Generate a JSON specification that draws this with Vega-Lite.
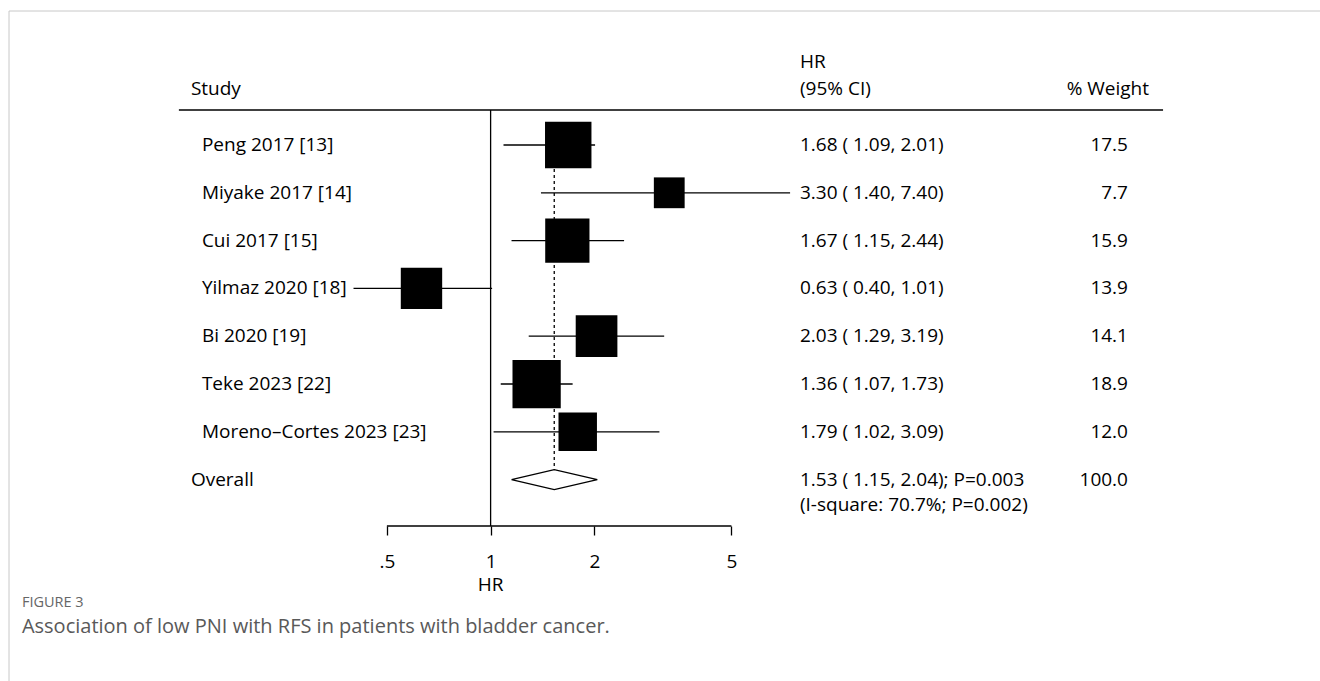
{
  "$schema": "https://vega.github.io/schema/vega-lite/v6.json",
  "width": 1311,
  "height": 670,
  "autosize": {"type": "none"},
  "padding": {"left": 9, "top": 11, "right": 0, "bottom": 0},
  "background": "white",
  "data": {"values": [{"item": "frame"}]},
  "config": {
    "view": {"stroke": null},
    "font": "Open Sans",
    "axisY": {"disable": true},
    "text": {"font": "Open Sans", "fontSize": 19, "color": "black", "baseline": "middle"}
  },
  "datasets": {
    "studies": [
      {"study": "Peng 2017 [13]", "row": 1, "hr": 1.68, "lo": 1.09, "hi": 2.01, "w": 17.5, "ci": "1.68 ( 1.09, 2.01)"},
      {"study": "Miyake 2017 [14]", "row": 2, "hr": 3.30, "lo": 1.40, "hi": 7.40, "w": 7.7, "ci": "3.30 ( 1.40, 7.40)"},
      {"study": "Cui 2017 [15]", "row": 3, "hr": 1.67, "lo": 1.15, "hi": 2.44, "w": 15.9, "ci": "1.67 ( 1.15, 2.44)"},
      {"study": "Yilmaz 2020 [18]", "row": 4, "hr": 0.63, "lo": 0.40, "hi": 1.01, "w": 13.9, "ci": "0.63 ( 0.40, 1.01)"},
      {"study": "Bi 2020 [19]", "row": 5, "hr": 2.03, "lo": 1.29, "hi": 3.19, "w": 14.1, "ci": "2.03 ( 1.29, 3.19)"},
      {"study": "Teke 2023 [22]", "row": 6, "hr": 1.36, "lo": 1.07, "hi": 1.73, "w": 18.9, "ci": "1.36 ( 1.07, 1.73)"},
      {"study": "Moreno–Cortes 2023 [23]", "row": 7, "hr": 1.79, "lo": 1.02, "hi": 3.09, "w": 12.0, "ci": "1.79 ( 1.02, 3.09)"}
    ],
    "overall": [
      {"label": "Overall", "row": 8, "hr": 1.53, "lo": 1.15, "hi": 2.04, "w": 100.0, "ci": "1.53 ( 1.15, 2.04); P=0.003", "het": "(I-square: 70.7%; P=0.002)"}
    ],
    "diamond": [
      {"vx": 1.15, "vy": 8, "ord": 1},
      {"vx": 1.53, "vy": 7.791, "ord": 2},
      {"vx": 2.04, "vy": 8, "ord": 3},
      {"vx": 1.53, "vy": 8.209, "ord": 4},
      {"vx": 1.15, "vy": 8, "ord": 5}
    ]
  },
  "layer": [
    {
      "mark": {"type": "rule", "color": "#c8c8c8", "strokeWidth": 1},
      "encoding": {
        "x": {"datum": 0.04, "type": "quantitative", "scale": {"type": "log", "domain": [0.04, 255.5], "nice": false}},
        "x2": {"datum": 255.5},
        "y": {"datum": -1.803, "type": "quantitative", "scale": {"type": "linear", "domain": [-1.803, 12.213], "reverse": true, "nice": false, "zero": false}}
      }
    },
    {
      "mark": {"type": "rule", "color": "#c8c8c8", "strokeWidth": 1},
      "encoding": {
        "x": {"datum": 0.04, "type": "quantitative"},
        "y": {"datum": -1.803, "type": "quantitative"},
        "y2": {"datum": 12.213}
      }
    },
    {
      "mark": {"type": "rule", "color": "black", "strokeWidth": 1.3},
      "encoding": {
        "x": {"datum": 0.1245, "type": "quantitative"},
        "x2": {"datum": 89.5},
        "y": {"datum": 0.268, "type": "quantitative"}
      }
    },
    {
      "mark": {"type": "rule", "color": "black", "strokeWidth": 1.3},
      "encoding": {
        "x": {"datum": 1, "type": "quantitative"},
        "y": {"datum": 0.268, "type": "quantitative"},
        "y2": {"datum": 8.971}
      }
    },
    {
      "mark": {"type": "rule", "color": "black", "strokeWidth": 1.3},
      "encoding": {
        "x": {"datum": 0.5, "type": "quantitative"},
        "x2": {"datum": 5},
        "y": {"datum": 8.971, "type": "quantitative"}
      }
    },
    {
      "mark": {"type": "rule", "color": "black", "strokeWidth": 1.3, "strokeDash": [3, 3]},
      "encoding": {
        "x": {"datum": 1.53, "type": "quantitative"},
        "y": {"datum": 1, "type": "quantitative"},
        "y2": {"datum": 7.791}
      }
    },
    {
      "data": {"name": "studies"},
      "mark": {"type": "rule", "color": "black", "strokeWidth": 1.3},
      "encoding": {
        "x": {"field": "lo", "type": "quantitative"},
        "x2": {"field": "hi"},
        "y": {"field": "row", "type": "quantitative"}
      }
    },
    {
      "data": {"name": "studies"},
      "mark": {"type": "square", "color": "black", "filled": true, "opacity": 1},
      "encoding": {
        "x": {
          "field": "hr", "type": "quantitative",
          "axis": {
            "values": [0.5, 1, 2, 5],
            "labelExpr": "datum.value == 0.5 ? '.5' : datum.label",
            "domain": false, "grid": false,
            "ticks": true, "tickSize": 9, "tickColor": "black", "tickWidth": 1.3,
            "labelFont": "Open Sans", "labelFontSize": 19, "labelColor": "black",
            "labelPadding": 17, "labelFlush": false, "labelOverlap": false,
            "title": null, "offset": -155
          }
        },
        "y": {"field": "row", "type": "quantitative"},
        "size": {"field": "w", "type": "quantitative", "scale": {"type": "linear", "domain": [0, 20], "range": [0, 2464]}, "legend": null}
      }
    },
    {
      "data": {"name": "diamond"},
      "mark": {"type": "line", "color": "black", "strokeWidth": 1.3},
      "encoding": {
        "x": {"field": "vx", "type": "quantitative"},
        "y": {"field": "vy", "type": "quantitative"},
        "order": {"field": "ord", "type": "quantitative"}
      }
    },
    {
      "data": {"name": "studies"},
      "mark": {"type": "text", "align": "left"},
      "encoding": {
        "x": {"datum": 0.1452, "type": "quantitative"},
        "y": {"field": "row", "type": "quantitative"},
        "text": {"field": "study"}
      }
    },
    {
      "data": {"name": "studies"},
      "mark": {"type": "text", "align": "left"},
      "encoding": {
        "x": {"datum": 7.904, "type": "quantitative"},
        "y": {"field": "row", "type": "quantitative"},
        "text": {"field": "ci"}
      }
    },
    {
      "data": {"name": "studies"},
      "mark": {"type": "text", "align": "right"},
      "encoding": {
        "x": {"datum": 70.8, "type": "quantitative"},
        "y": {"field": "row", "type": "quantitative"},
        "text": {"field": "w", "type": "quantitative", "format": ".1f"}
      }
    },
    {
      "data": {"name": "overall"},
      "mark": {"type": "text", "align": "left"},
      "encoding": {
        "x": {"datum": 0.1349, "type": "quantitative"},
        "y": {"field": "row", "type": "quantitative"},
        "text": {"field": "label"}
      }
    },
    {
      "data": {"name": "overall"},
      "mark": {"type": "text", "align": "left"},
      "encoding": {
        "x": {"datum": 7.904, "type": "quantitative"},
        "y": {"field": "row", "type": "quantitative"},
        "text": {"field": "ci"}
      }
    },
    {
      "data": {"name": "overall"},
      "mark": {"type": "text", "align": "left", "dy": 25},
      "encoding": {
        "x": {"datum": 7.904, "type": "quantitative"},
        "y": {"field": "row", "type": "quantitative"},
        "text": {"field": "het"}
      }
    },
    {
      "data": {"name": "overall"},
      "mark": {"type": "text", "align": "right"},
      "encoding": {
        "x": {"datum": 70.8, "type": "quantitative"},
        "y": {"field": "row", "type": "quantitative"},
        "text": {"field": "w", "type": "quantitative", "format": ".1f"}
      }
    },
    {
      "mark": {"type": "text", "align": "left"},
      "encoding": {
        "x": {"datum": 0.1349, "type": "quantitative"},
        "y": {"datum": -0.172, "type": "quantitative"},
        "text": {"value": "Study"}
      }
    },
    {
      "mark": {"type": "text", "align": "left"},
      "encoding": {
        "x": {"datum": 7.904, "type": "quantitative"},
        "y": {"datum": -0.74, "type": "quantitative"},
        "text": {"value": "HR"}
      }
    },
    {
      "mark": {"type": "text", "align": "left"},
      "encoding": {
        "x": {"datum": 7.904, "type": "quantitative"},
        "y": {"datum": -0.172, "type": "quantitative"},
        "text": {"value": "(95% CI)"}
      }
    },
    {
      "mark": {"type": "text", "align": "right"},
      "encoding": {
        "x": {"datum": 81.5, "type": "quantitative"},
        "y": {"datum": -0.172, "type": "quantitative"},
        "text": {"value": "% Weight"}
      }
    },
    {
      "mark": {"type": "text", "align": "center"},
      "encoding": {
        "x": {"datum": 1, "type": "quantitative"},
        "y": {"datum": 10.205, "type": "quantitative"},
        "text": {"value": "HR"}
      }
    },
    {
      "mark": {"type": "text", "align": "left", "fontSize": 14.5, "color": "#666666"},
      "encoding": {
        "x": {"datum": 0.0436, "type": "quantitative"},
        "y": {"datum": 10.582, "type": "quantitative"},
        "text": {"value": "FIGURE 3"}
      }
    },
    {
      "mark": {"type": "text", "align": "left", "fontSize": 20, "color": "#595959"},
      "encoding": {
        "x": {"datum": 0.0436, "type": "quantitative"},
        "y": {"datum": 11.084, "type": "quantitative"},
        "text": {"value": "Association of low PNI with RFS in patients with bladder cancer."}
      }
    }
  ]
}
